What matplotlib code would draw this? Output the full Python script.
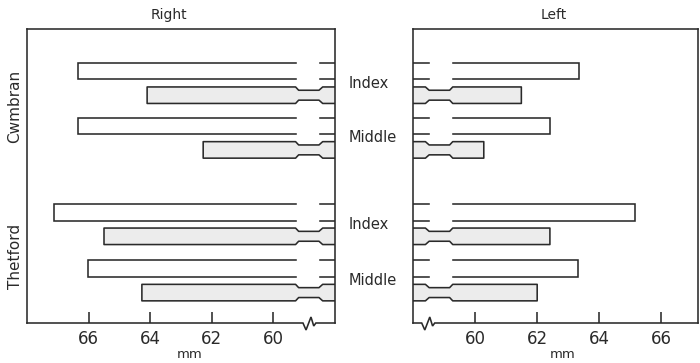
import matplotlib
matplotlib.use("Agg")
import matplotlib.pyplot as plt
from matplotlib.patches import Polygon
from matplotlib import transforms

plt.rcParams['font.family'] = ['DejaVu Sans']

# ---- data -----------------------------------------------------------
groups = ["Cwmbran", "Thetford"]
fingers = ["Index", "Middle"]
# order of rows: Cwmbran Index, Cwmbran Middle, Thetford Index, Thetford Middle
right_open = [66.33, 66.33, 67.13, 66.02]
right_shaded = [64.10, 62.28, 65.50, 64.27]
left_open = [63.35, 62.41, 65.16, 63.33]
left_shaded = [61.49, 60.28, 62.41, 62.00]
tick_values = [60, 62, 64, 66]
panel_titles = ["Right", "Left"]
axis_label = "mm"

# ---- layout ---------------------------------------------------------
W, H = 700, 363
INK = '#2a2a2a'
SHADE = '#ececec'
LW = 1.15
AX_H = 294.0                       # axes height in pixels (y data == pixels)
pair_centres = [54.2, 108.9, 195.3, 251.6]
pair_offset = 12.0
bar_h = 16.5
pinch = 3.3
axis_floor = 58.0                  # value at the broken edge of each panel
gap_near, gap_far = 59.28, 58.50   # interrupted section of the open bars
slope = 0.10

fig = plt.figure(figsize=(W / 100, H / 100), dpi=100)
fig.patch.set_facecolor('white')

ax_r = fig.add_axes([27 / W, (H - 323) / H, 308 / W, AX_H / H])
ax_l = fig.add_axes([413 / W, (H - 323) / H, 285 / W, AX_H / H])


def open_bar(ax, value, yc):
    top, bot = yc - bar_h / 2, yc + bar_h / 2
    ax.plot([gap_near, value, value, gap_near], [top, top, bot, bot],
            color=INK, lw=LW, solid_joinstyle='miter', zorder=3)
    for y in (top, bot):
        ax.plot([gap_far, axis_floor], [y, y], color=INK, lw=LW, zorder=3)


def shaded_bar(ax, value, yc):
    top, bot = yc - bar_h / 2, yc + bar_h / 2
    xs_top = [axis_floor, gap_far - slope, gap_far + 0.02,
              gap_near - slope, gap_near]
    ys_top = [top, top, top + pinch, top + pinch, top]
    pts = list(zip(xs_top, ys_top)) + [(value, top), (value, bot)]
    pts += list(zip(xs_top[::-1], [bot, bot - pinch, bot - pinch, bot, bot]))
    ax.add_patch(Polygon(pts, closed=False, facecolor=SHADE, edgecolor=INK,
                         lw=LW, joinstyle='round', zorder=2))


def draw_panel(ax, opens, shadeds, xlim, start, direction):
    ax.set_xlim(*xlim)
    ax.set_ylim(AX_H, 0)
    for i, c in enumerate(pair_centres):
        open_bar(ax, opens[i], c - pair_offset)
        shaded_bar(ax, shadeds[i], c + pair_offset)
    for s in ax.spines.values():
        s.set_color(INK)
        s.set_linewidth(LW)
    ax.spines['bottom'].set_visible(False)
    # bottom axis line with a zig-zag break
    zx = [0, 0.10, 0.26, 0.35, 0.42]
    zy = [0, 7.0, -6.0, 3.0, 0]
    xs = [xlim[0]] + [start + direction * d for d in zx] + [xlim[1]]
    ys = [AX_H] + [AX_H + d for d in zy] + [AX_H]
    ax.plot(xs, ys, color=INK, lw=LW, clip_on=False, zorder=4,
            solid_joinstyle='miter')
    ax.set_yticks([])
    ax.set_xticks(tick_values)
    ax.set_xticklabels([str(v) for v in tick_values])
    ax.tick_params(axis='x', direction='in', length=8, width=LW, color=INK,
                   labelsize=12, labelcolor=INK, pad=5)


draw_panel(ax_r, right_open, right_shaded, (68.0, 58.0), 59.04, -1)
draw_panel(ax_l, left_open, left_shaded, (58.0, 67.18), 58.28, 1)

# titles and axis labels
fig.text(169 / W, 1 - 15 / H, panel_titles[0], ha='center', va='center',
         fontsize=10, color=INK)
fig.text(554 / W, 1 - 15 / H, panel_titles[1], ha='center', va='center',
         fontsize=10, color=INK)
fig.text(190 / W, 1 - 354 / H, axis_label, ha='center', va='center',
         fontsize=9.5, color=INK)
fig.text(563 / W, 1 - 354 / H, axis_label, ha='center', va='center',
         fontsize=9.5, color=INK)

# finger labels between the panels
blend = transforms.blended_transform_factory(fig.transFigure, ax_r.transData)
for i, c in enumerate(pair_centres):
    fig.text(349 / W, c, fingers[i % 2], transform=blend, ha='left',
             va='center', fontsize=10.5, color=INK)

# town labels down the left side
group_centres = [(pair_centres[0] + pair_centres[1]) / 2 - 4,
                 (pair_centres[2] + pair_centres[3]) / 2 + 4]
for g, c in zip(groups, group_centres):
    fig.text(15 / W, c, g, transform=blend, ha='center', va='center',
             rotation=90, fontsize=11, color=INK)

fig.savefig('out.png', dpi=100, facecolor='white')
